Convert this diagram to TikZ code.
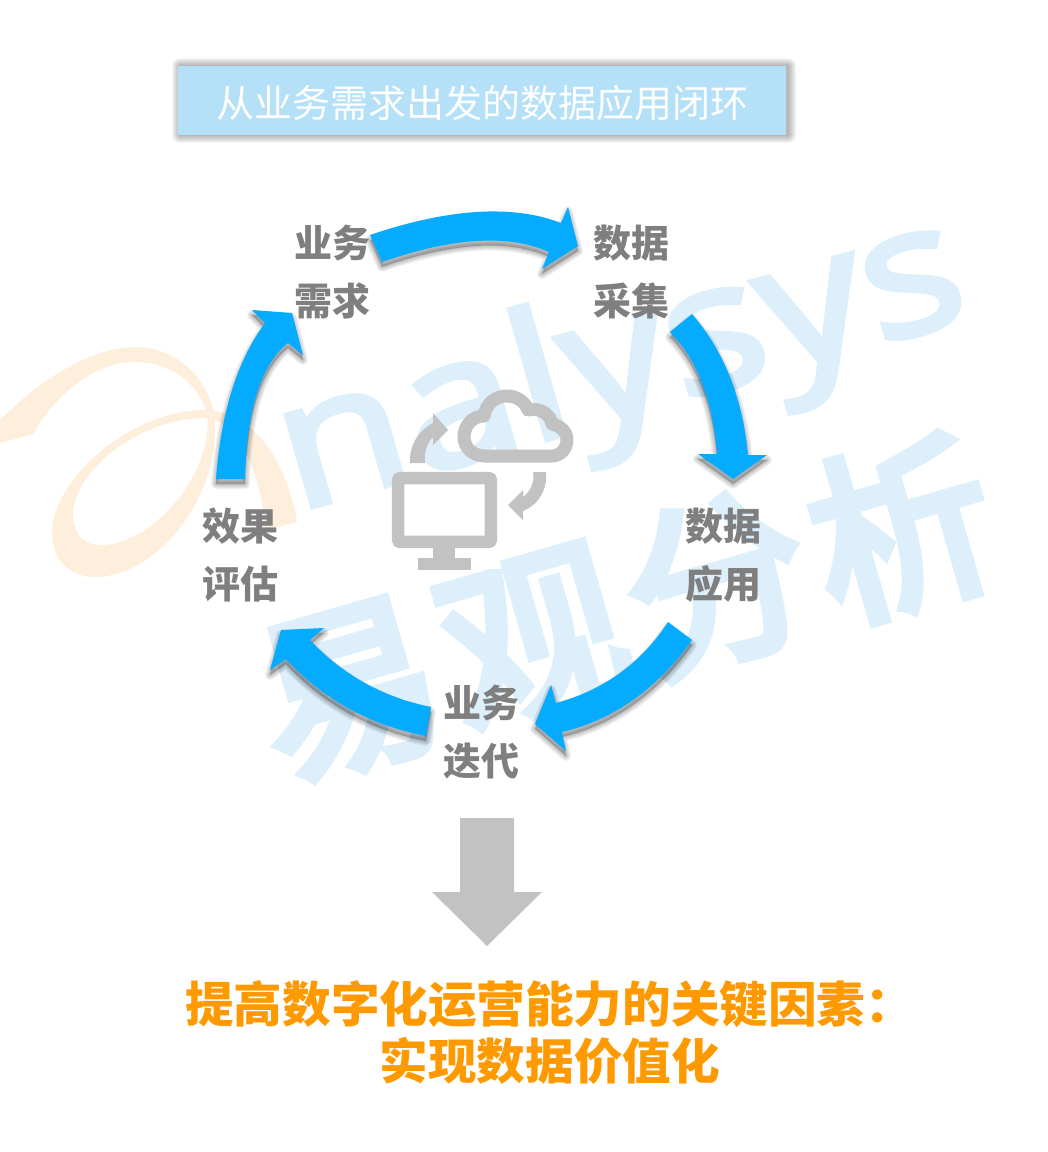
\documentclass[tikz,border=0pt]{standalone}
\usepackage{fontspec}
\newfontfamily\cjk{Noto Sans CJK SC}
\newfontfamily\wmcjk[FakeBold=5]{Noto Sans CJK SC}
\newfontfamily\wmfont[FakeBold=3]{Open Sans}
\definecolor{arrowblue}{HTML}{05ABFF}
\definecolor{titleblue}{HTML}{B4E0F8}
\definecolor{markblue}{HTML}{DCEFFB}
\definecolor{markorange}{HTML}{FEEFDD}
\definecolor{labelgray}{HTML}{7F7F7F}
\definecolor{icongray}{HTML}{C2C2C2}
\definecolor{keyorange}{HTML}{FF9900}
\tikzset{
	steplabel/.style={align=center, text=labelgray, font=\cjk\bfseries\fontsize{38}{58.5}\selectfont},
	markword/.style={text=markblue, rotate=16}
}
\def\softarrow#1{%
	\foreach \w in {10,8,6,4,2}{\draw[black, fill=black, opacity=0.05, yshift=-5pt, line join=round, line width=\w pt] #1;}
	\fill[arrowblue] #1;
}

\begin{document}
\begin{tikzpicture}[x=1pt, y=-1pt]
	%%%%% START %%%%%
	\useasboundingbox (0, 0) rectangle (1048, 1152);

	% watermark
	\fill[markorange] (0, 420) .. controls (45, 375) and (95, 347) .. (135, 347) .. controls (175, 347) and (205, 375) .. (214, 412) -- (207, 412) .. controls (195, 380) and (170, 362) .. (133, 362) .. controls (95, 362) and (55, 395) .. (33, 434) -- (0, 443) -- cycle;
	\fill[markorange] (297, 522) .. controls (285, 450) and (245, 410) .. (205, 410) .. controls (130, 410) and (52, 480) .. (52, 533) .. controls (52, 560) and (70, 577) .. (95, 577) .. controls (160, 577) and (225, 490) .. (214, 412) -- (207, 412) .. controls (215, 470) and (155, 545) .. (100, 545) .. controls (83, 545) and (73, 533) .. (73, 513) .. controls (75, 470) and (140, 418) .. (205, 418) .. controls (235, 418) and (262, 470) .. (265, 530) -- cycle;
	\node[markword, font=\wmfont\fontsize{178}{178}\selectfont] (marklatin) at (622, 370) {\scalebox{1.17}[1]{nalysys}};
	\node[markword, font=\wmcjk\fontsize{182}{182}\selectfont] (markcjk) at (625, 608) {易\hspace{10pt}观\hspace{10pt}分\hspace{10pt}析};

	% title
	\foreach \w in {1,...,8}{\fill[black, opacity=0.04, rounded corners=\w pt] (178-\w+2, 66-\w) rectangle (786+\w+2, 135+\w);}
	\fill[titleblue] (178, 66) rectangle (786, 135);
	\node[text=white, font=\cjk\fontsize{38}{38}\selectfont] (title) at (482, 103) {从业务需求出发的数据应用闭环};

	% loop arrows
	\softarrow{(370, 235) .. controls (449, 208.3) and (512.7, 204.3) .. (561, 223) -- (568, 207) -- (578, 246) -- (542, 269) -- (549, 252) .. controls (508.7, 234) and (453, 237.3) .. (382, 262) -- cycle}
	\softarrow{(692, 314) .. controls (724, 351) and (742.7, 398) .. (748, 455) -- (767, 455) -- (733, 479) -- (698, 454) -- (717, 454) .. controls (712.7, 400) and (697, 359.3) .. (670, 332) -- cycle}
	\softarrow{(692, 640) .. controls (656.7, 689.3) and (613.3, 720) .. (562, 732) -- (566, 751) -- (535, 724) -- (551, 685) -- (556, 703) .. controls (604, 690) and (641.3, 663) .. (668, 622) -- cycle}
	\softarrow{(426, 736) .. controls (371, 725.5) and (324.3, 699.9) .. (286, 659) -- (270, 670) -- (281, 630) -- (324, 628) -- (310, 640) .. controls (343, 675) and (383.3, 697.4) .. (431, 707) -- cycle}
	\softarrow{(216, 479) .. controls (221, 412.3) and (237.3, 360.3) .. (265, 323) -- (252, 310) -- (292, 313) -- (303, 355) -- (288, 343) .. controls (261, 364.3) and (246.7, 409.7) .. (245, 479) -- cycle}

	% step labels
	\node[steplabel] (demand) at (332, 272) {业务\\需求};
	\node[steplabel] (collect) at (631, 272) {数据\\采集};
	\node[steplabel] (apply) at (723, 555) {数据\\应用};
	\node[steplabel] (iterate) at (481, 732) {业务\\迭代};
	\node[steplabel] (evaluate) at (240, 555) {效果\\评估};

	% cloud and monitor
	\draw[line width=13pt, color=icongray, line join=round] (552, 456) -- (485, 456) .. controls (472, 456) and (464, 447) .. (464, 437) .. controls (464, 425) and (473, 416) .. (484, 416) .. controls (486, 403) and (496, 396) .. (507, 396) .. controls (517, 396) and (525, 402) .. (528, 410) .. controls (540, 407) and (551, 415) .. (552, 424) .. controls (561, 426) and (567, 432) .. (567, 440) .. controls (567, 449) and (560, 456) .. (552, 456) -- cycle;
	\fill[icongray] (410, 463) .. controls (409, 445) and (419, 430) .. (433, 423) -- (433, 413) -- (448, 430) -- (433, 445) -- (433, 437) .. controls (427, 443) and (424, 452) .. (425, 463) -- cycle;
	\fill[icongray] (546, 472) .. controls (548, 490) and (537, 506) .. (523, 511) -- (523, 520) -- (508, 505) -- (523, 490) -- (523, 497) .. controls (530, 492) and (535, 482) .. (533, 472) -- cycle;
	\draw[line width=12.5pt, color=icongray, rounded corners=2pt] (398.2, 478.2) rectangle (490.8, 541.8);
	\fill[icongray] (433, 548) rectangle (455, 558);
	\fill[icongray] (418, 558) rectangle (471, 570);

	% big arrow and conclusion
	\fill[icongray] (460, 818) -- (514, 818) -- (514, 892) -- (542, 892) -- (487, 946) -- (432, 892) -- (460, 892) -- cycle;
	\node[anchor=north west, inner sep=0pt, align=left, text=keyorange, font=\cjk\bfseries\fontsize{48.6}{57}\selectfont] (keyfactor) at (185, 980) {提高数字化运营能力的关键因素：\\\hspace*{4em}实现数据价值化};

	%%%%% END %%%%%
\end{tikzpicture}
\end{document}
